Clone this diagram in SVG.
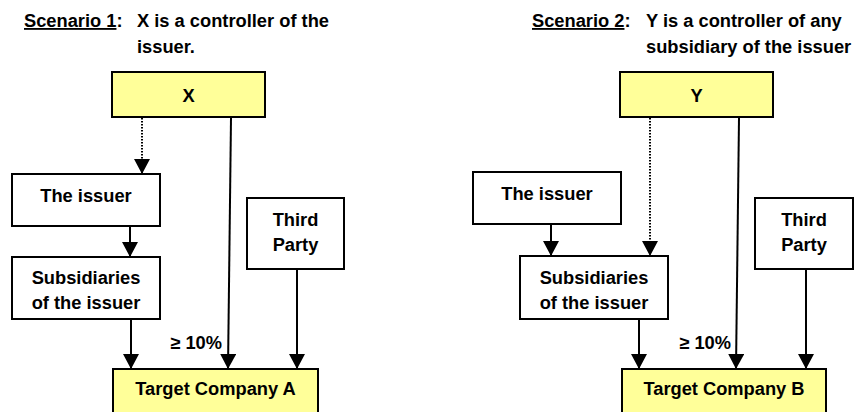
<svg xmlns="http://www.w3.org/2000/svg" width="855" height="412" viewBox="0 0 855 412">
<style>
text{font-family:"Liberation Sans",Arial,sans-serif;font-weight:bold;font-size:18.3px;fill:#000}
.t{text-anchor:middle}
.box{fill:#fff;stroke:#000;stroke-width:2}
.yel{fill:#FFFF99;stroke:#000;stroke-width:2}
.ln{stroke:#000;stroke-width:2;fill:none}
.dot{stroke:#000;stroke-width:2;fill:none;stroke-dasharray:1.5 1.5}
</style>
<defs>
<marker id="ah" markerUnits="userSpaceOnUse" markerWidth="16" markerHeight="16" viewBox="0 0 16 16" refX="15" refY="8" orient="auto">
<path d="M0,0 L15,8 L0,16 Z" fill="#000"/>
</marker>
</defs>
<rect width="855" height="412" fill="#fff"/>

<g id="title1">
<text x="24" y="27"><tspan text-decoration="underline">Scenario 1</tspan>:</text>
<text x="137" y="27">X is a controller of the</text>
<text x="137" y="53">issuer.</text>
</g>
<g id="title2">
<text x="532" y="27"><tspan text-decoration="underline">Scenario 2</tspan>:</text>
<text x="646" y="27">Y is a controller of any</text>
<text x="646" y="53">subsidiary of the issuer</text>
</g>

<g id="connectors">
<line class="dot" x1="142" y1="118" x2="142" y2="174" marker-end="url(#ah)"/>
<line class="ln" x1="130" y1="226" x2="130" y2="257" marker-end="url(#ah)"/>
<line class="ln" x1="131" y1="319" x2="131" y2="369" marker-end="url(#ah)"/>
<line class="ln" x1="231" y1="118" x2="228" y2="369" marker-end="url(#ah)"/>
<line class="ln" x1="297" y1="269" x2="297" y2="369" marker-end="url(#ah)"/>

<line class="dot" x1="650" y1="118" x2="650" y2="256" marker-end="url(#ah)"/>
<line class="ln" x1="551" y1="224" x2="551" y2="256" marker-end="url(#ah)"/>
<line class="ln" x1="639" y1="319" x2="639" y2="369" marker-end="url(#ah)"/>
<line class="ln" x1="739" y1="118" x2="736" y2="369" marker-end="url(#ah)"/>
<line class="ln" x1="806" y1="269" x2="806" y2="369" marker-end="url(#ah)"/>
<text x="222" y="349" text-anchor="end">≥ 10%</text>
<text x="731" y="349" text-anchor="end">≥ 10%</text>
</g>

<g id="nodeX">
<rect class="yel" x="112" y="72" width="153" height="45"/>
<text class="t" x="188.5" y="102">X</text>
</g>
<g id="issuer1">
<rect class="box" x="12" y="174" width="148" height="52"/>
<text class="t" x="86" y="202">The issuer</text>
</g>
<g id="subs1">
<rect class="box" x="12" y="257" width="148" height="62"/>
<text class="t" x="86" y="284">Subsidiaries</text>
<text class="t" x="86" y="309">of the issuer</text>
</g>
<g id="third1">
<rect class="box" x="247" y="198" width="97" height="71"/>
<text class="t" x="295.5" y="226">Third</text>
<text class="t" x="295.5" y="251">Party</text>
</g>
<g id="targetA">
<rect class="yel" x="113" y="369" width="205" height="50"/>
<text class="t" x="215.5" y="395">Target Company A</text>
</g>

<g id="nodeY">
<rect class="yel" x="620" y="72" width="153" height="45"/>
<text class="t" x="696.5" y="102">Y</text>
</g>
<g id="issuer2">
<rect class="box" x="473" y="172" width="148" height="52"/>
<text class="t" x="547" y="200">The issuer</text>
</g>
<g id="subs2">
<rect class="box" x="520" y="256" width="148" height="63"/>
<text class="t" x="594" y="284">Subsidiaries</text>
<text class="t" x="594" y="309">of the issuer</text>
</g>
<g id="third2">
<rect class="box" x="755" y="198" width="98" height="71"/>
<text class="t" x="804" y="226">Third</text>
<text class="t" x="804" y="251">Party</text>
</g>
<g id="targetB">
<rect class="yel" x="622" y="369" width="204" height="50"/>
<text class="t" x="724" y="395">Target Company B</text>
</g>
</svg>
